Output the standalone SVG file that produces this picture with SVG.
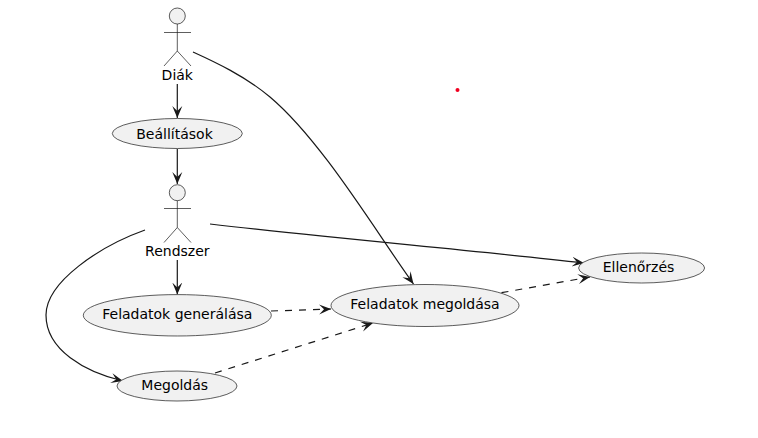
<svg xmlns="http://www.w3.org/2000/svg" width="758" height="438" viewBox="0 0 758 438">
<style>
.u{fill:#f1f1f1;stroke:#181818;stroke-width:.7}
.a{fill:none;stroke:#181818;stroke-width:.7}
.h{fill:#f1f1f1;stroke:#181818;stroke-width:.7}
text{font-family:"DejaVu Sans",sans-serif;font-size:14px;fill:#000;text-anchor:middle}
.c{fill:none;stroke:#181818;stroke-width:1.2;marker-end:url(#ah)}
.d{stroke-dasharray:7 7}
</style>
<defs>
<marker id="ah" markerUnits="userSpaceOnUse" markerWidth="14" markerHeight="12" refX="12" refY="5.5" orient="auto">
<path d="M12 5.5 L0 .5 L5 5.5 L0 10.5 Z" fill="#181818"/>
</marker>
</defs>
<rect width="758" height="438" fill="#fff"/>
<circle cx="457.5" cy="90" r="2" fill="#f00020"/>
<g id="connectors">
<path class="c" d="M177.3 84 V118"/>
<path class="c" d="M177.3 149 V184"/>
<path class="c" d="M177.3 260 V294.5"/>
<path class="c" d="M193 52 C215 62 245 76 270 97 C322 141 376 232 413.5 284"/>
<path class="c" d="M210 224 C330 238 470 250 584 263"/>
<path class="c" d="M145 230 C100 246 46 282 46 315 C46 350 85 372 123 381"/>
<path class="c d" d="M271 311 L331 309"/>
<path class="c d" d="M215 373 L373 323"/>
<path class="c d" d="M501.5 292.7 L590 277"/>
</g>
<g id="diak">
<circle class="h" cx="177.3" cy="16" r="8"/>
<path class="a" d="M177.3 24 V51 M164 32.5 H191 M164 66 L177.3 51 L191 66"/>
<text x="177.3" y="80">Diák</text>
</g>
<g id="beallitasok">
<ellipse class="u" cx="177.3" cy="133.5" rx="65" ry="15"/>
<text x="174.5" y="138.5">Beállítások</text>
</g>
<g id="rendszer">
<circle class="h" cx="177.3" cy="192.7" r="8"/>
<path class="a" d="M177.3 200.7 V227.5 M164 208.5 H191 M164 242.5 L177.3 227.5 L191 242.5"/>
<text x="177.3" y="256">Rendszer</text>
</g>
<g id="generalasa">
<ellipse class="u" cx="177.3" cy="315.3" rx="94" ry="20.7"/>
<text x="177.3" y="318.5">Feladatok generálása</text>
</g>
<g id="megoldas">
<ellipse class="u" cx="177" cy="386" rx="60" ry="15"/>
<text x="174.7" y="390.3">Megoldás</text>
</g>
<g id="megoldasa">
<ellipse class="u" cx="425" cy="305.5" rx="94" ry="21"/>
<text x="425" y="309">Feladatok megoldása</text>
</g>
<g id="ellenorzes">
<ellipse class="u" cx="641.6" cy="268" rx="63" ry="15"/>
<text x="638.5" y="272.3">Ellenőrzés</text>
</g>
</svg>
